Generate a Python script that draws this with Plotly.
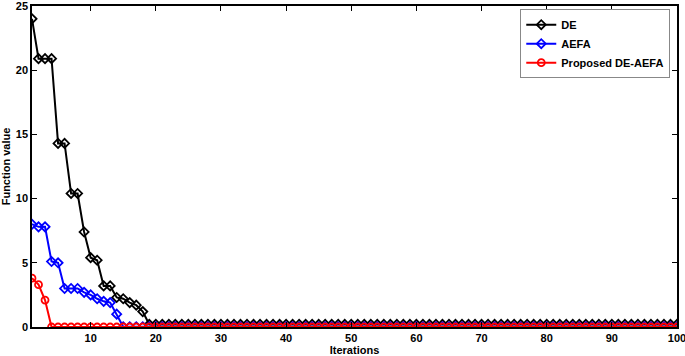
import plotly.graph_objects as go

iterations = list(range(1, 101))
de_head = [24.0, 20.9, 20.9, 20.9, 14.3, 14.3, 10.4, 10.4, 7.4, 5.4, 5.2, 3.2, 3.2, 2.3, 2.2, 1.9, 1.7, 1.2]
de_values = de_head + [0.2] * (100 - len(de_head))
aefa_head = [8.0, 7.8, 7.8, 5.1, 5.0, 3.0, 3.0, 3.0, 2.7, 2.5, 2.2, 2.0, 1.9, 1.0]
aefa_values = aefa_head + [0.02] * (100 - len(aefa_head))
prop_head = [3.8, 3.3, 2.1]
prop_values = prop_head + [0.0] * (100 - len(prop_head))

series = [
    ("DE", de_values, "black", "diamond-open"),
    ("AEFA", aefa_values, "blue", "diamond-open"),
    ("Proposed DE-AEFA", prop_values, "red", "circle-open"),
]

fig = go.Figure()
for name, vals, color, sym in series:
    fig.add_trace(go.Scatter(
        x=iterations, y=vals, name=name, mode="lines+markers",
        line=dict(color=color, width=2),
        marker=dict(symbol=sym, size=7, color=color, line=dict(width=1.8, color=color)),
    ))

bold = dict(family="Liberation Sans, Arial", size=11, color="black", weight="bold")
axis_common = dict(
    showgrid=False, zeroline=False, showline=True, linecolor="black", linewidth=1.5,
    mirror="ticks", ticks="inside", ticklen=5, tickwidth=1, tickcolor="black",
    tickfont=bold, automargin=False, ticklabeloverflow="allow",
)
fig.update_layout(
    width=685, height=356,
    margin=dict(l=32, r=8, t=6, b=29),
    paper_bgcolor="white", plot_bgcolor="white",
    font=bold,
    showlegend=True,
    legend=dict(x=0.757, y=0.99, xanchor="left", yanchor="top",
                bgcolor="white", bordercolor="#888", borderwidth=1,
                font=bold, tracegroupgap=0),
    xaxis=dict(range=[1, 100], tickvals=[10, 20, 30, 40, 50, 60, 70, 80, 90, 100],
               title=dict(text="Iterations", standoff=2, font=bold),
               **axis_common),
    yaxis=dict(range=[0, 25], tickvals=[0, 5, 10, 15, 20, 25],
               title=dict(text="Function value", standoff=4, font=bold),
               **axis_common),
)
fig.write_html("out.html", config={"displayModeBar": False},
               post_script="document.body.style.margin='0';")
